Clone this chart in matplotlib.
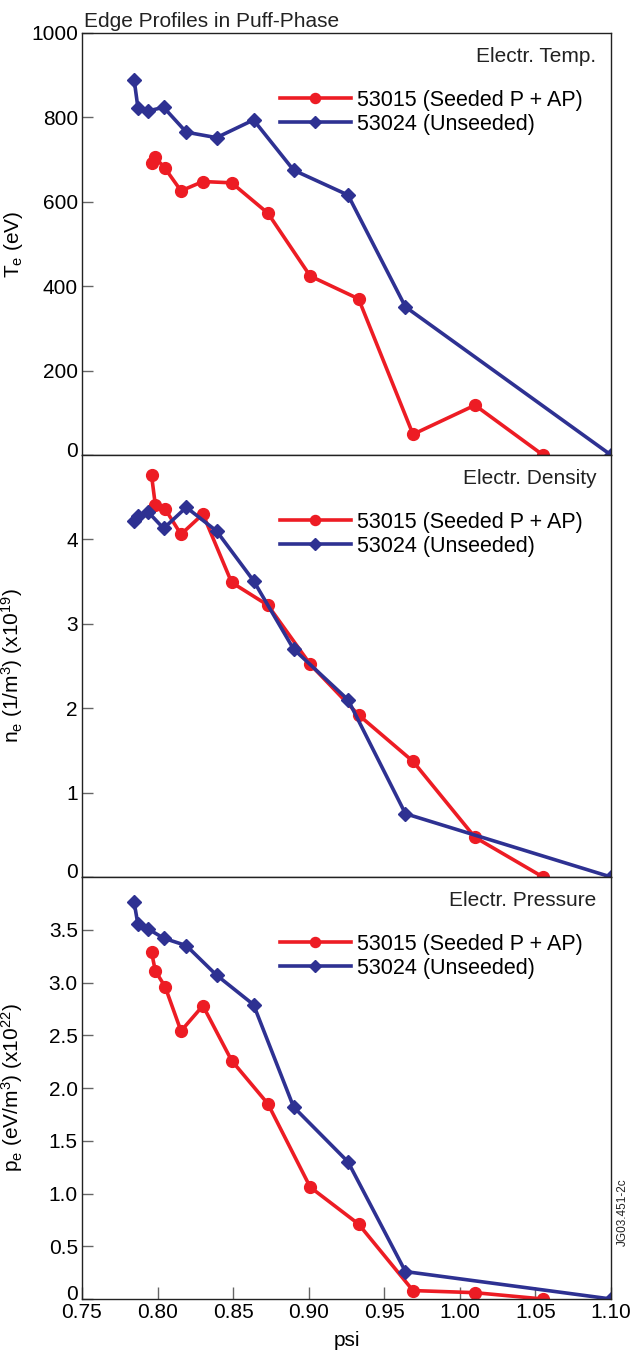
import numpy as np
import matplotlib
matplotlib.use('Agg')
import matplotlib.pyplot as plt
import matplotlib.transforms as mtransforms

plt.rcParams['font.family'] = 'Liberation Sans'
plt.rcParams['mathtext.fontset'] = 'custom'
plt.rcParams['mathtext.rm'] = 'Liberation Sans'
plt.rcParams['mathtext.it'] = 'Liberation Sans:italic'

# data
psi_seeded = [0.796, 0.7985, 0.805, 0.8155, 0.830, 0.849, 0.873, 0.901, 0.933, 0.969, 1.010, 1.055]
psi_unseeded = [0.7845, 0.787, 0.7935, 0.804, 0.819, 0.839, 0.8635, 0.890, 0.926, 0.964, 1.10]

te_seeded = [691, 705, 679, 626, 648, 645, 573, 424, 370, 49, 118, 0]
te_unseeded = [889, 823, 815, 824, 765, 752, 794, 675, 616, 351, 0]

ne_seeded = [4.76, 4.41, 4.36, 4.06, 4.30, 3.49, 3.22, 2.52, 1.92, 1.37, 0.47, 0.0]
ne_unseeded = [4.22, 4.28, 4.33, 4.13, 4.38, 4.10, 3.51, 2.70, 2.10, 0.75, 0.0]

pe_seeded = [3.29, 3.11, 2.96, 2.54, 2.78, 2.26, 1.85, 1.06, 0.71, 0.08, 0.06, 0.0]
pe_unseeded = [3.76, 3.55, 3.51, 3.42, 3.35, 3.07, 2.79, 1.82, 1.30, 0.26, 0.0]

label_seeded = '53015 (Seeded P + AP)'
label_unseeded = '53024 (Unseeded)'

panels = [
    (te_seeded, te_unseeded, 'Electr. Temp.', r'T$_\mathrm{e}$ (eV)',
     (0, 1000), [0, 200, 400, 600, 800, 1000], ['0', '200', '400', '600', '800', '1000']),
    (ne_seeded, ne_unseeded, 'Electr. Density', r'n$_\mathrm{e}$ (1/m$^3$) (x10$^{19}$)',
     (0, 5), [0, 1, 2, 3, 4], ['0', '1', '2', '3', '4']),
    (pe_seeded, pe_unseeded, 'Electr. Pressure', r'p$_\mathrm{e}$ (eV/m$^3$) (x10$^{22}$)',
     (0, 4), [0, 0.5, 1.0, 1.5, 2.0, 2.5, 3.0, 3.5],
     ['0', '0.5', '1.0', '1.5', '2.0', '2.5', '3.0', '3.5']),
]

red = '#ED1C24'
blue = '#2E3192'
fs = 15

fig = plt.figure(figsize=(6.34, 13.54), dpi=100)

left, width = 82 / 634, 529 / 634
h = 422 / 1354
bottoms = [1 - 455 / 1354, 1 - 877 / 1354, 1 - 1299 / 1354]
raise_zero = mtransforms.ScaledTranslation(0, 6 / 100, fig.dpi_scale_trans)

for i, (ys, yu, title, ylab, ylim, yt, ytl) in enumerate(panels):
    ax = fig.add_axes([left, bottoms[i], width, h])
    ax.plot(psi_seeded, ys, '-o', color=red, lw=2.6, ms=8.5, label=label_seeded)
    ax.plot(psi_unseeded, yu, '-D', color=blue, lw=2.6, ms=7.5, label=label_unseeded)
    ax.set_xlim(0.75, 1.10)
    ax.set_ylim(*ylim)
    ax.set_yticks(yt)
    ax.set_yticklabels(ytl)
    ax.tick_params(direction='in', length=8, width=1, color='#666666',
                   labelsize=fs, pad=3)
    if i < 2:
        ax.set_xticks([])
    else:
        ax.set_xticks(np.arange(0.75, 1.101, 0.05))
        ax.set_xticklabels(['0.75', '0.80', '0.85', '0.90', '0.95', '1.00', '1.05', '1.10'])
        ax.tick_params(axis='x', length=9, pad=3)
        ax.set_xlabel('psi', fontsize=fs, labelpad=6)
    zero = ax.get_yticklabels()[0]
    zero.set_transform(zero.get_transform() + raise_zero)
    for s in ax.spines.values():
        s.set_linewidth(1.0)
        s.set_color('#222222')
    ax.set_ylabel(ylab, fontsize=fs)
    ax.yaxis.set_label_coords(-0.108, 0.5)
    ax.text(0.972, 0.945, title, transform=ax.transAxes, ha='right', va='center',
            fontsize=fs, color='#222222')
    ax.legend(loc='upper left', bbox_to_anchor=(0.374, 0.866), frameon=False,
              fontsize=15.5, borderpad=0, borderaxespad=0, handlelength=3.3,
              handletextpad=0.3, labelspacing=0.15, markerscale=0.85)

fig.text(84 / 634, 1 - 27 / 1354, 'Edge Profiles in Puff-Phase', fontsize=fs,
         ha='left', va='baseline', color='#222222')
fig.text(623 / 634, 1 - 1212 / 1354, 'JG03.451-2c', fontsize=8.5, rotation=90,
         ha='center', va='center', color='#222222')

fig.savefig('out.png', dpi=100)
